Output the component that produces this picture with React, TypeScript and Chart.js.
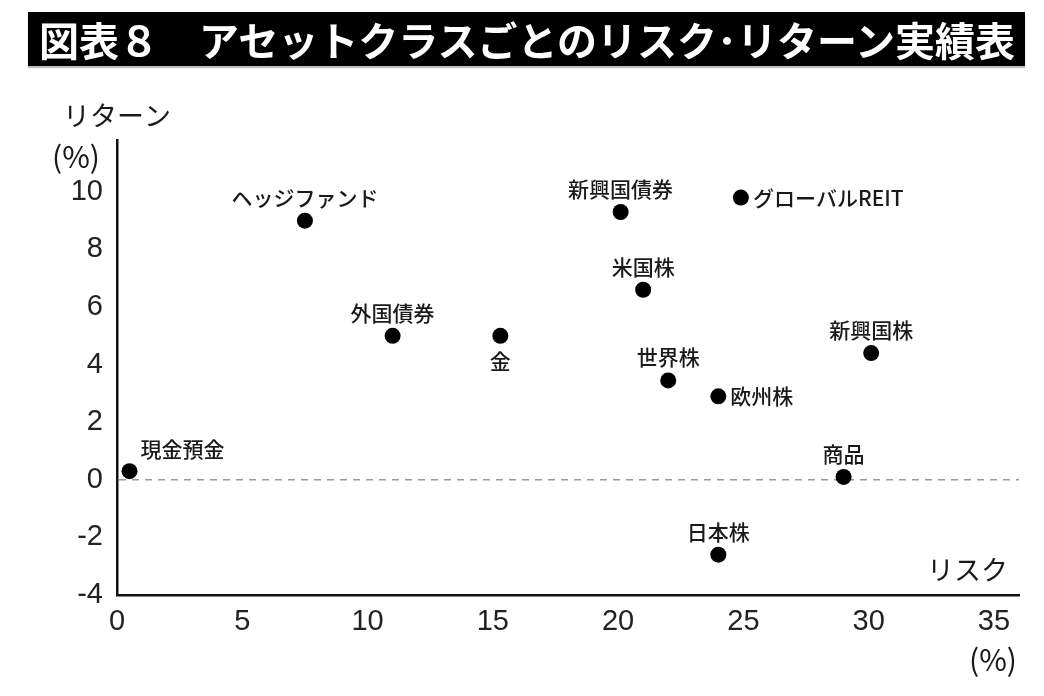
import React, { useEffect, useRef } from 'react';
import { Chart, registerables } from 'chart.js';

Chart.register(...registerables);

const titleText = '図表８　アセットクラスごとのリスク･リターン実績表';
const yAxisTitle = 'リターン';
const xAxisTitle = 'リスク';
const unitLabel = '(%)';

const categories = ['現金預金', 'ヘッジファンド', '外国債券', '金', '新興国債券', 'グローバルREIT', '米国株', '新興国株', '世界株', '欧州株', '商品', '日本株'];
const riskValues = [0.5, 7.5, 11.0, 15.3, 20.1, 24.9, 21.0, 30.1, 22.0, 24.0, 29.0, 24.0];
const returnValues = [0.3, 9.0, 5.0, 5.0, 9.3, 9.8, 6.6, 4.4, 3.45, 2.9, 0.1, -2.6];
const labelAnchors = ['topright', 'top', 'top', 'bottom', 'top', 'right', 'top', 'top', 'top', 'right', 'top', 'top'];

const xTickValues = [0, 5, 10, 15, 20, 25, 30, 35];
const yTickValues = [-4, -2, 0, 2, 4, 6, 8, 10];

const CJK = '"Noto Sans CJK JP", "Noto Sans", sans-serif';
const NUM = '"Liberation Sans", Arial, sans-serif';

const overlayPlugin = {
  id: 'overlay',
  beforeDatasetsDraw(chart: any) {
    const { ctx, chartArea, scales } = chart;
    const y0 = scales.y.getPixelForValue(0);
    ctx.save();
    ctx.strokeStyle = '#9a9a9a';
    ctx.lineWidth = 1.5;
    ctx.setLineDash([7, 6]);
    ctx.beginPath();
    ctx.moveTo(chartArea.left + 2, y0);
    ctx.lineTo(chartArea.right, y0);
    ctx.stroke();
    ctx.restore();
  },
  afterDatasetsDraw(chart: any) {
    const { ctx, chartArea } = chart;
    const meta = chart.getDatasetMeta(0);
    ctx.save();
    ctx.fillStyle = '#1a1a1a';
    ctx.font = `500 21px ${CJK}`;
    meta.data.forEach((el: any, i: number) => {
      const a = labelAnchors[i];
      const t = categories[i];
      if (a === 'top') {
        ctx.textAlign = 'center';
        ctx.textBaseline = 'middle';
        ctx.fillText(t, el.x, el.y - 23);
      } else if (a === 'bottom') {
        ctx.textAlign = 'center';
        ctx.textBaseline = 'middle';
        ctx.fillText(t, el.x, el.y + 25);
      } else if (a === 'right') {
        ctx.textAlign = 'left';
        ctx.textBaseline = 'middle';
        ctx.fillText(t, el.x + 12, el.y);
      } else {
        ctx.textAlign = 'left';
        ctx.textBaseline = 'middle';
        ctx.fillText(t, el.x + 11, el.y - 22);
      }
    });
    // axis titles
    ctx.font = `27px ${CJK}`;
    ctx.textBaseline = 'middle';
    ctx.textAlign = 'center';
    ctx.fillText(yAxisTitle, chartArea.left, chartArea.top - 24);
    ctx.textAlign = 'right';
    ctx.fillText(xAxisTitle, chartArea.right - 11, chartArea.bottom - 25);
    ctx.font = `30px ${CJK}`;
    ctx.fillText(unitLabel, chartArea.left - 17, chartArea.top + 17);
    ctx.fillText(unitLabel, chartArea.right - 2, chartArea.bottom + 65);
    ctx.restore();
  },
};

export default function App() {
  const ref = useRef<HTMLCanvasElement | null>(null);
  useEffect(() => {
    if (!ref.current) return;
    const chart = new Chart(ref.current, {
      type: 'scatter',
      data: {
        datasets: [
          {
            label: 'assets',
            data: riskValues.map((x, i) => ({ x, y: returnValues[i] })),
            backgroundColor: '#000',
            borderWidth: 0,
            pointRadius: 8,
            pointHoverRadius: 8,
          },
        ],
      },
      options: {
        animation: false,
        responsive: false,
        devicePixelRatio: 1,
        layout: { padding: { left: 0, top: 140, right: 25, bottom: 41 } },
        plugins: { legend: { display: false }, tooltip: { enabled: false } },
        scales: {
          x: {
            type: 'linear',
            min: 0,
            max: 36,
            afterBuildTicks: (s: any) => {
              s.ticks = xTickValues.map((v) => ({ value: v }));
            },
            afterFit: (s: any) => {
              s.height = 60;
            },
            grid: { display: false, drawTicks: false },
            border: { display: true, color: '#111', width: 2.5 },
            ticks: { color: '#222', padding: 10, font: { family: NUM, size: 29 } },
          },
          y: {
            type: 'linear',
            min: -4,
            max: 11.8,
            afterBuildTicks: (s: any) => {
              s.ticks = yTickValues.map((v) => ({ value: v }));
            },
            afterFit: (s: any) => {
              s.width = 117;
            },
            grid: { display: false, drawTicks: false },
            border: { display: true, color: '#111', width: 2.5 },
            ticks: { color: '#222', padding: 14, font: { family: NUM, size: 29 } },
          },
        },
      },
      plugins: [overlayPlugin],
    });
    return () => chart.destroy();
  }, []);

  return (
    <div style={{ position: 'fixed', left: 0, top: 0, width: 1044, height: 696, background: '#fff' }}>
      <canvas ref={ref} width={1044} height={696} style={{ position: 'absolute', left: 0, top: 0, width: 1044, height: 696 }} />
      <div
        style={{
          position: 'absolute',
          left: 28,
          top: 12,
          width: 997,
          height: 54,
          background: '#000',
          color: '#fff',
          fontFamily: CJK,
          fontWeight: 700,
          fontSize: 40,
          lineHeight: '54px',
          paddingLeft: 11,
          boxSizing: 'border-box',
          whiteSpace: 'nowrap',
          overflow: 'hidden',
          boxShadow: '0 2px 1px rgba(0,0,0,0.25)',
        }}
      >
        {titleText}
      </div>
    </div>
  );
}
